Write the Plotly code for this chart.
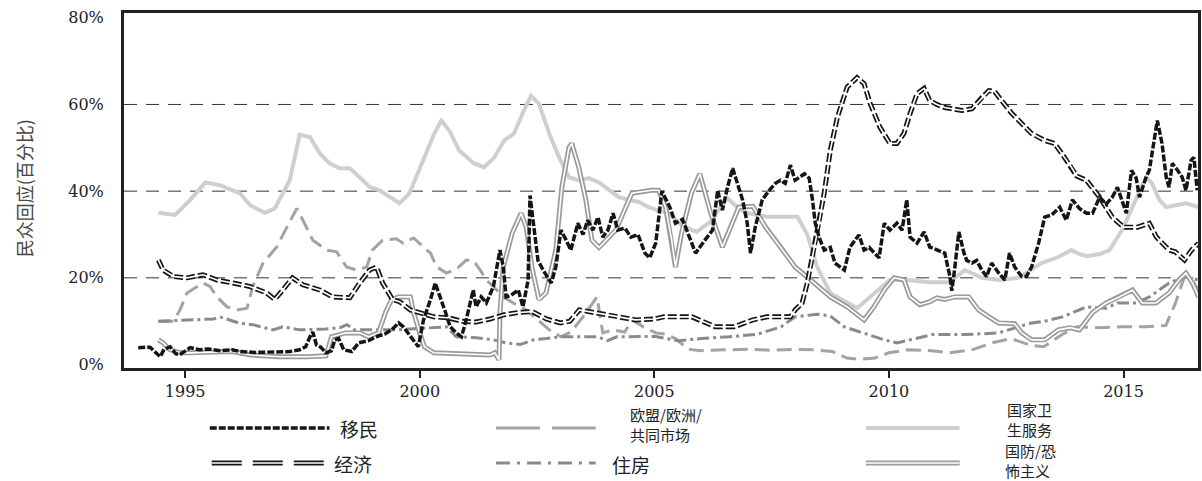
import plotly.graph_objects as go

# ---------------- data (share of public naming issue, %) ----------------
imm_year = [1994.00, 1994.25, 1994.47, 1994.55, 1994.68, 1994.80, 1994.89, 1995.11, 1995.30, 1995.50,
            1995.74, 1996.00, 1996.17, 1996.50, 1996.90, 1997.23, 1997.44, 1997.57, 1997.66, 1997.72,
            1997.80, 1997.89, 1998.00, 1998.12, 1998.19, 1998.27, 1998.38, 1998.55, 1998.70, 1998.91,
            1999.06, 1999.25, 1999.40, 1999.55, 1999.65, 1999.80, 1999.97, 2000.08, 2000.23, 2000.33,
            2000.44, 2000.55, 2000.65, 2000.78, 2000.89, 2000.99, 2001.14, 2001.20, 2001.31, 2001.42,
            2001.57, 2001.71, 2001.78, 2001.84, 2001.95, 2002.10, 2002.20, 2002.31, 2002.35, 2002.42,
            2002.52, 2002.63, 2002.80, 2002.90, 2003.01, 2003.12, 2003.22, 2003.37, 2003.48, 2003.58,
            2003.69, 2003.80, 2003.90, 2004.01, 2004.12, 2004.22, 2004.37, 2004.50, 2004.65, 2004.80,
            2004.90, 2005.03, 2005.16, 2005.33, 2005.45, 2005.60, 2005.75, 2005.88, 2006.03, 2006.24,
            2006.35, 2006.45, 2006.56, 2006.67, 2006.77, 2006.88, 2006.98, 2007.05, 2007.15, 2007.30,
            2007.45, 2007.58, 2007.69, 2007.79, 2007.90, 2008.00, 2008.20, 2008.30, 2008.37, 2008.43,
            2008.51, 2008.62, 2008.75, 2008.85, 2009.05, 2009.17, 2009.36, 2009.47, 2009.58, 2009.79,
            2009.90, 2010.02, 2010.17, 2010.28, 2010.38, 2010.45, 2010.60, 2010.75, 2010.87, 2011.02,
            2011.19, 2011.30, 2011.34, 2011.40, 2011.49, 2011.60, 2011.66, 2011.77, 2011.87, 2011.98,
            2012.08, 2012.19, 2012.34, 2012.47, 2012.57, 2012.68, 2012.83, 2012.93, 2013.04, 2013.19,
            2013.32, 2013.47, 2013.64, 2013.78, 2013.91, 2014.06, 2014.21, 2014.34, 2014.49, 2014.63,
            2014.76, 2014.87, 2014.95, 2015.06, 2015.17, 2015.27, 2015.34, 2015.48, 2015.55, 2015.65,
            2015.72, 2015.82, 2015.91, 2015.97, 2016.04, 2016.14, 2016.25, 2016.33, 2016.44, 2016.50,
            2016.57]
imm_pct = [3.9, 4.0, 1.8, 3.5, 4.1, 2.5, 2.3, 3.9, 3.4, 3.6,
           3.2, 3.4, 3.0, 2.8, 2.9, 3.0, 3.4, 4.1, 6.4, 7.5,
           4.5, 4.0, 2.7, 3.2, 5.7, 6.0, 3.4, 3.0, 5.0, 5.5,
           6.4, 7.0, 8.0, 9.6, 8.7, 6.4, 4.1, 10.3, 15.0, 18.8,
           15.6, 12.0, 8.7, 7.3, 6.4, 10.3, 17.2, 13.3, 15.6, 14.2,
           18.0, 26.4, 22.5, 15.6, 16.0, 17.2, 13.3, 19.5, 39.0, 33.0,
           24.0, 21.8, 18.8, 22.5, 31.0, 28.7, 26.4, 32.6, 30.0, 33.3,
           31.0, 34.0, 29.4, 31.0, 34.9, 31.0, 31.5, 29.4, 30.0, 25.7,
           24.6, 28.0, 40.0, 36.3, 32.6, 33.5, 29.4, 25.7, 28.0, 31.0,
           40.2, 35.6, 40.9, 45.3, 41.8, 38.0, 32.6, 25.7, 31.7, 38.0,
           40.2, 41.8, 42.5, 41.8, 46.0, 42.5, 44.0, 43.0, 38.0, 32.6,
           29.4, 26.4, 27.0, 23.4, 21.8, 27.1, 29.9, 26.4, 27.0, 24.6,
           32.6, 31.0, 32.6, 31.0, 38.0, 29.4, 28.0, 30.6, 27.1, 26.4,
           25.7, 20.3, 17.0, 22.0, 30.6, 25.7, 24.0, 23.4, 24.0, 21.8,
           20.3, 23.4, 21.1, 19.5, 25.7, 22.5, 20.3, 20.3, 22.5, 28.0,
           34.0, 34.5, 36.3, 33.3, 38.0, 36.0, 34.9, 34.9, 38.6, 37.0,
           38.6, 40.9, 38.6, 34.9, 44.8, 43.0, 38.6, 43.2, 44.8, 51.7,
           56.3, 51.0, 43.2, 40.9, 46.4, 45.0, 43.2, 40.2, 47.1, 47.8,
           40.2]

eu_year = [1994.43, 1994.75, 1994.89, 1995.04, 1995.26, 1995.38, 1995.53, 1995.68, 1995.89, 1996.10,
           1996.32, 1996.44, 1996.66, 1996.95, 1997.17, 1997.38, 1997.51, 1997.72, 1998.02, 1998.23,
           1998.44, 1998.65, 1998.87, 1998.99, 1999.21, 1999.50, 1999.65, 1999.87, 2000.08, 2000.23,
           2000.36, 2000.57, 2000.78, 2000.99, 2001.14, 2001.29, 2001.42, 2001.57, 2001.78, 2001.99,
           2002.27, 2002.52, 2002.76, 2003.01, 2003.22, 2003.48, 2003.78, 2003.90, 2004.12, 2004.37,
           2004.52, 2004.80, 2005.03, 2005.24, 2005.45, 2005.73, 2006.00, 2006.50, 2007.00, 2007.50,
           2008.00, 2008.40, 2008.80, 2009.10, 2009.40, 2009.70, 2010.00, 2010.40, 2010.90, 2011.30,
           2011.80, 2012.20, 2012.60, 2013.00, 2013.30, 2013.70, 2014.00, 2014.50, 2015.00, 2015.50,
           2015.90, 2016.10, 2016.30, 2016.50, 2016.60]
eu_pct = [10.0, 10.0, 12.6, 16.5, 18.0, 18.8, 18.0, 15.6, 13.3, 12.6,
          13.0, 18.0, 23.4, 27.1, 31.7, 36.0, 33.3, 28.7, 26.4, 26.0,
          22.5, 21.8, 22.5, 26.4, 28.7, 29.0, 28.0, 29.2, 27.1, 25.7,
          22.5, 21.1, 22.0, 24.1, 24.0, 21.8, 19.5, 18.0, 15.6, 14.2,
          12.6, 10.3, 8.0, 6.4, 7.5, 11.0, 15.6, 7.3, 8.0, 7.5,
          10.3, 8.5, 7.3, 7.0, 6.0, 3.5, 3.2, 3.4, 3.5, 3.3,
          3.5, 3.4, 3.0, 1.5, 1.2, 1.5, 2.7, 3.4, 3.2, 2.7,
          3.5, 5.0, 6.0, 4.5, 4.1, 7.0, 8.7, 8.5, 8.7, 8.7,
          9.0, 14.0, 20.3, 18.8, 17.0]

nhs_year = [1994.43, 1994.79, 1995.11, 1995.43, 1995.74, 1996.17, 1996.38, 1996.70, 1996.91, 1997.23,
            1997.44, 1997.66, 1997.87, 1998.08, 1998.29, 1998.51, 1998.72, 1998.93, 1999.14, 1999.36,
            1999.57, 1999.78, 2000.10, 2000.31, 2000.46, 2000.63, 2000.84, 2001.16, 2001.37, 2001.59,
            2001.80, 2002.01, 2002.22, 2002.37, 2002.54, 2002.76, 2002.97, 2003.18, 2003.39, 2003.61,
            2003.82, 2004.03, 2004.24, 2004.46, 2004.67, 2004.88, 2005.09, 2005.30, 2005.60, 2005.90,
            2006.20, 2006.55, 2006.80, 2007.00, 2007.40, 2008.05, 2008.26, 2008.47, 2008.75, 2009.32,
            2009.68, 2010.02, 2010.38, 2010.87, 2011.28, 2011.62, 2011.98, 2012.34, 2012.76, 2013.04,
            2013.25, 2013.61, 2013.89, 2014.06, 2014.21, 2014.49, 2014.70, 2014.97, 2015.19, 2015.34,
            2015.48, 2015.61, 2015.76, 2015.91, 2016.33, 2016.61]
nhs_pct = [35.0, 34.5, 38.0, 42.0, 41.4, 39.5, 36.8, 35.0, 36.0, 42.5,
           53.0, 52.5, 48.7, 46.4, 45.3, 45.3, 43.2, 41.0, 40.2, 38.6,
           37.2, 39.5, 47.8, 53.3, 56.3, 54.0, 49.4, 46.4, 45.5, 47.8,
           51.7, 53.3, 58.6, 62.0, 60.2, 53.3, 47.8, 43.2, 42.5, 43.0,
           42.0, 40.2, 38.6, 38.0, 37.5, 36.3, 35.5, 35.0, 32.0, 30.6,
           33.0, 38.4, 36.0, 34.9, 34.1, 34.1, 30.0, 22.5, 16.5, 13.0,
           16.5, 19.5, 19.5, 19.0, 19.0, 21.8, 20.0, 19.5, 20.0, 21.8,
           23.4, 24.8, 26.4, 25.5, 25.0, 25.5, 26.4, 31.0, 36.3, 40.2,
           43.2, 41.8, 38.0, 36.3, 37.2, 36.3]

eco_year = [1994.43, 1994.53, 1994.75, 1995.04, 1995.38, 1995.68, 1996.02, 1996.38, 1996.74, 1996.91,
            1997.08, 1997.29, 1997.51, 1997.87, 1998.14, 1998.51, 1998.72, 1998.93, 1999.08, 1999.21,
            1999.42, 1999.57, 1999.80, 2000.00, 2000.30, 2000.60, 2000.90, 2001.20, 2001.50, 2001.80,
            2002.10, 2002.40, 2002.70, 2003.00, 2003.20, 2003.40, 2003.70, 2004.20, 2004.60, 2005.00,
            2005.20, 2005.80, 2006.30, 2006.70, 2007.10, 2007.40, 2007.90, 2008.00, 2008.15, 2008.26,
            2008.47, 2008.62, 2008.75, 2008.90, 2009.11, 2009.32, 2009.47, 2009.60, 2009.81, 2010.02,
            2010.17, 2010.32, 2010.45, 2010.60, 2010.75, 2010.87, 2011.02, 2011.19, 2011.55, 2011.77,
            2011.98, 2012.13, 2012.25, 2012.40, 2012.62, 2012.83, 2013.04, 2013.32, 2013.53, 2013.74,
            2013.89, 2014.00, 2014.21, 2014.49, 2014.76, 2015.00, 2015.30, 2015.55, 2015.70, 2015.97,
            2016.10, 2016.30, 2016.45, 2016.60]
eco_pct = [24.1, 21.8, 20.3, 20.0, 20.7, 19.5, 18.8, 18.0, 16.5, 15.0,
           17.2, 20.0, 18.4, 17.2, 15.6, 15.4, 18.8, 21.8, 22.5, 18.8,
           15.0, 14.5, 12.6, 12.0, 11.0, 10.8, 10.0, 9.8, 10.5, 11.5,
           12.0, 12.2, 10.5, 9.6, 10.0, 12.6, 12.0, 11.0, 10.3, 10.5,
           11.0, 11.0, 8.7, 8.7, 10.3, 11.0, 11.0, 12.6, 14.2, 18.8,
           30.3, 39.5, 49.4, 57.0, 64.0, 66.2, 64.8, 60.2, 54.7, 51.0,
           51.0, 53.3, 57.9, 62.5, 63.7, 60.9, 60.0, 59.3, 58.6, 59.0,
           61.6, 63.2, 63.0, 60.9, 57.9, 55.6, 53.3, 51.7, 51.0, 47.8,
           45.5, 43.5, 42.5, 38.6, 34.0, 31.7, 31.7, 32.6, 29.4, 26.4,
           26.0, 24.1, 26.4, 28.0]

hou_year = [1994.43, 1995.10, 1995.60, 1995.74, 1996.00, 1996.17, 1996.44, 1996.87, 1997.08, 1997.44,
            1998.00, 1998.30, 1998.45, 1998.60, 1999.50, 2000.57, 2000.78, 2001.20, 2001.57, 2001.84,
            2002.14, 2002.42, 2002.70, 2003.00, 2003.80, 2004.00, 2004.20, 2005.00, 2005.50, 2006.00,
            2006.60, 2007.20, 2007.70, 2008.00, 2008.47, 2008.75, 2009.05, 2009.47, 2009.90, 2010.17,
            2010.92, 2011.62, 2012.34, 2012.76, 2013.04, 2013.32, 2013.70, 2014.21, 2014.63, 2014.87,
            2015.27, 2015.55, 2015.97, 2016.30, 2016.60]
hou_pct = [10.0, 10.3, 10.5, 11.0, 10.0, 9.5, 9.2, 8.0, 8.7, 8.0,
           8.2, 8.5, 9.2, 8.0, 8.0, 8.7, 6.4, 6.2, 5.7, 5.0,
           4.6, 5.7, 6.0, 6.4, 6.4, 5.5, 6.4, 6.5, 5.5, 6.0,
           6.4, 7.0, 8.7, 11.0, 11.6, 11.2, 8.7, 7.3, 5.7, 5.0,
           6.9, 6.9, 7.3, 8.7, 9.6, 10.0, 11.0, 13.3, 13.0, 14.2,
           14.2, 15.6, 18.8, 20.3, 19.5]

def_year = [1994.43, 1994.53, 1994.68, 1994.90, 1995.10, 1995.60, 1996.00, 1996.40, 1997.00, 1997.60,
            1998.00, 1998.12, 1998.42, 1998.72, 1998.91, 1999.12, 1999.27, 1999.40, 1999.55, 1999.80,
            1999.87, 2000.00, 2000.10, 2000.30, 2000.90, 2001.50, 2001.60, 2001.69, 2001.71, 2001.78,
            2001.97, 2002.16, 2002.27, 2002.39, 2002.54, 2002.69, 2002.90, 2003.03, 2003.18, 2003.24,
            2003.39, 2003.54, 2003.67, 2003.82, 2004.18, 2004.52, 2004.94, 2005.09, 2005.24, 2005.37,
            2005.45, 2005.58, 2005.79, 2005.97, 2006.20, 2006.45, 2006.80, 2007.10, 2007.37, 2007.58,
            2007.79, 2008.00, 2008.41, 2008.75, 2009.11, 2009.47, 2009.68, 2009.90, 2010.11, 2010.32,
            2010.45, 2010.66, 2010.87, 2011.02, 2011.19, 2011.40, 2011.70, 2011.91, 2012.13, 2012.34,
            2012.68, 2012.83, 2013.04, 2013.32, 2013.61, 2013.86, 2014.06, 2014.34, 2014.63, 2014.91,
            2015.19, 2015.40, 2015.69, 2015.97, 2016.18, 2016.33, 2016.47, 2016.60]
def_pct = [5.7, 5.0, 3.4, 2.7, 2.7, 2.8, 3.0, 2.2, 1.8, 1.8,
           2.0, 6.4, 7.3, 7.3, 6.4, 7.3, 12.0, 15.0, 15.6, 15.6,
           12.0, 7.3, 4.1, 2.7, 2.4, 2.2, 2.7, 1.1, 12.0, 22.5,
           30.3, 34.9, 31.7, 22.5, 15.0, 16.5, 26.4, 41.0, 50.0, 51.0,
           45.5, 38.0, 28.7, 27.0, 31.0, 39.5, 40.2, 40.2, 36.3, 28.7,
           22.5, 30.3, 39.5, 44.0, 35.0, 27.1, 36.3, 36.5, 31.7, 28.7,
           25.7, 22.5, 18.8, 15.6, 13.3, 10.3, 13.3, 17.2, 20.0, 19.5,
           15.6, 13.8, 14.5, 15.4, 15.0, 15.6, 15.6, 12.6, 11.0, 9.6,
           9.4, 7.3, 5.7, 5.7, 8.0, 8.5, 8.0, 12.0, 14.2, 15.6,
           17.2, 14.2, 14.2, 16.5, 19.5, 21.1, 18.8, 15.6]

x_ticks = [1995, 2000, 2005, 2010, 2015]
x_tick_labels = ["1995", "2000", "2005", "2010", "2015"]
y_ticks = [0, 20, 40, 60, 80]
y_tick_labels = ["0%", "20%", "40%", "60%", "80%"]
grid_levels = [20, 40, 60]

# ---------------- figure ----------------
fig = go.Figure()


def line(x, y, color, width, dash="solid"):
    fig.add_trace(go.Scatter(x=x, y=y, mode="lines",
                             line=dict(color=color, width=width, dash=dash, shape="linear"),
                             showlegend=False, hoverinfo="skip"))


C_NHS = "#cfcfcf"
C_EU = "#a3a3a3"
C_HOU = "#8a8a8a"
C_DEF = "#9a9a9a"
C_BLACK = "#151515"

line(nhs_year, nhs_pct, C_NHS, 4)
line(eu_year, eu_pct, C_EU, 3, "15px,7px")
line(hou_year, hou_pct, C_HOU, 3, "12px,4px,3px,4px")
line(def_year, def_pct, C_DEF, 5)
line(def_year, def_pct, "white", 1.6)
line(eco_year, eco_pct, C_BLACK, 5, "9px,3px")
line(eco_year, eco_pct, "white", 1.6)
line(imm_year, imm_pct, C_BLACK, 3.5, "7px,2px")

shapes = []
for g in grid_levels:
    shapes.append(dict(type="line", xref="paper", x0=0, x1=1, yref="y", y0=g, y1=g,
                       line=dict(color="#333333", width=1, dash="13px,9px"), layer="below"))

# ---- legend (drawn manually: 3 columns x 2 rows) ----
PW, PH, L, B = 1077.0, 355.0, 124.0, 368.0


def px(x):
    return (x - L) / PW


def py(y):
    return (B - y) / PH


def sample(x0, x1, y, color, width, dash="solid"):
    shapes.append(dict(type="line", xref="paper", yref="paper", x0=px(x0), x1=px(x1),
                       y0=py(y), y1=py(y), line=dict(color=color, width=width, dash=dash)))


sample(210, 330, 428, C_BLACK, 3.5, "7px,2px")
sample(497, 597, 428, C_EU, 3, "44px,12px")
sample(868, 962, 428, C_NHS, 4)
sample(212, 330, 463, C_BLACK, 5, "30px,11px")
sample(212, 330, 463, "white", 1.6)
sample(497, 597, 463, C_HOU, 3, "14px,7px,3px,7px")
sample(868, 962, 463, C_DEF, 5)
sample(868, 962, 463, "white", 1.6)

CJK = "Noto Sans CJK SC"
annotations = []


def label(text, x, y, size=18):
    annotations.append(dict(text=text, x=px(x), y=py(y), xref="paper", yref="paper",
                            xanchor="left", yanchor="middle", showarrow=False, align="left",
                            borderpad=0,
                            font=dict(family=CJK, size=size, color="#222222")))


label("移民", 340, 428, 19)
label("欧盟/欧洲/<br>共同市场", 630, 424, 15)
label("国家卫<br>生服务", 1008, 419, 15)
label("经济", 334, 463, 19)
label("住房", 612, 464, 19)
label("国防/恐<br>怖主义", 1006, 460, 15)

annotations.append(dict(text="民众回应(百分比)", x=px(24), y=py(188), xref="paper", yref="paper",
                        xanchor="center", yanchor="middle", textangle=-90, showarrow=False,
                        font=dict(family=CJK, size=18, color="#444444")))

tickfont = dict(family="DejaVu Serif", size=16, color="#222222")

fig.update_layout(
    width=1202, height=481,
    margin=dict(l=124, r=1, t=13, b=113),
    paper_bgcolor="white", plot_bgcolor="white",
    showlegend=False,
    shapes=shapes,
    annotations=annotations,
    xaxis=dict(range=[1993.697, 2016.587], tickvals=x_ticks, ticktext=x_tick_labels,
               ticks="outside", ticklen=7, tickwidth=2, tickcolor="#222222",
               showline=True, linewidth=3, linecolor="#222222", mirror=True,
               showgrid=False, zeroline=False, tickfont=tickfont),
    yaxis=dict(range=[-0.8, 81.1], tickvals=y_ticks, ticktext=y_tick_labels,
               ticks="", showline=True, linewidth=3, linecolor="#222222", mirror=True,
               showgrid=False, zeroline=False, tickfont=tickfont, ticklabelstandoff=14),
)

fig.write_html("out.html", config={"displayModeBar": False},
               post_script="document.body.style.margin='0';document.body.style.padding='0';")
